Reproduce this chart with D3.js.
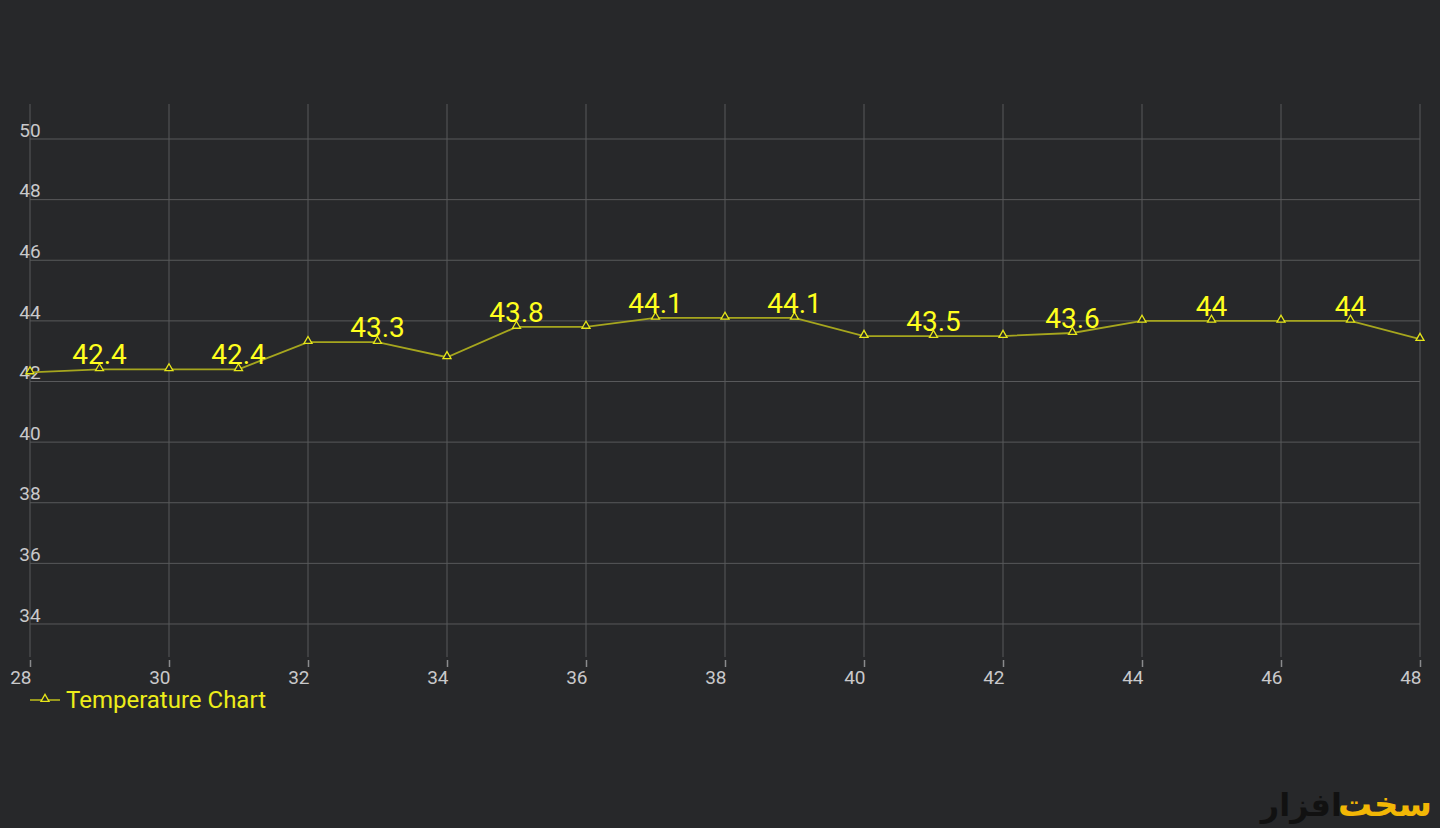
<!DOCTYPE html>
<html>
<head>
<meta charset="utf-8">
<script src="https://cdn.jsdelivr.net/npm/d3@7"></script>
<style>
  html, body { margin: 0; padding: 0; background: #27282a; }
  svg { display: block; font-family: Roboto, "Noto Sans", sans-serif; }
</style>
</head>
<body>
<div id="chart"></div>
<script>
// data
const days = [28, 29, 30, 31, 32, 33, 34, 35, 36, 37, 38, 39, 40, 41, 42, 43, 44, 45, 46, 47, 48];
const temps = [42.3, 42.4, 42.4, 42.4, 43.3, 43.3, 42.8, 43.8, 43.8, 44.1, 44.1, 44.1, 43.5, 43.5, 43.5, 43.6, 44, 44, 44, 44, 43.4];
const xTicks = [28, 30, 32, 34, 36, 38, 40, 42, 44, 46, 48];
const yTicks = [34, 36, 38, 40, 42, 44, 46, 48, 50];
const seriesName = 'Temperature Chart';

const width = 1440, height = 828;
const plotLeft = 30, plotRight = 1420, plotTop = 104, plotBottom = 657;

const points = days.map((d, i) => ({ day: d, temp: temps[i], idx: i }));

const svg = d3.select('#chart')
    .append('svg')
    .attr('width', width)
    .attr('height', height);

svg.append('rect')
    .attr('width', width)
    .attr('height', height)
    .attr('fill', '#27282a');

// scales
const x = d3.scaleLinear()
    .domain([28, 48])
    .range([plotLeft, plotRight]);

const y = d3.scaleLinear()
    .domain([32.911, 51.155])
    .range([plotBottom, plotTop]);

// grid lines
const grid = svg.append('g');
grid.selectAll('.vgrid')
    .data(xTicks)
    .enter()
    .append('line')
    .attr('x1', d => x(d)).attr('x2', d => x(d))
    .attr('y1', plotTop).attr('y2', plotBottom)
    .attr('stroke', '#58595b')
    .attr('stroke-width', 1);

grid.selectAll('.hgrid')
    .data(yTicks)
    .enter()
    .append('line')
    .attr('x1', plotLeft).attr('x2', plotRight)
    .attr('y1', d => y(d)).attr('y2', d => y(d))
    .attr('stroke', '#58595b')
    .attr('stroke-width', 1);

// x axis: small ticks below the plot, labels end-anchored
const xAxis = d3.axisBottom(x)
    .tickValues(xTicks)
    .tickSize(7)
    .tickPadding(4)
    .tickFormat(d3.format('d'));

const xAxisG = svg.append('g')
    .attr('transform', 'translate(0,' + (plotBottom + 3) + ')')
    .call(xAxis);
xAxisG.select('.domain').remove();
xAxisG.selectAll('line').attr('stroke', '#8a8b8d').attr('stroke-width', 1.5);
xAxisG.selectAll('text')
    .attr('fill', '#c9c9cb')
    .attr('font-size', 19)
    .attr('text-anchor', 'end')
    .attr('font-family', 'Roboto, sans-serif')
    .attr('dx', 1);

// y axis: labels sit on top of the grid line
const yAxis = d3.axisLeft(y)
    .tickValues(yTicks)
    .tickSize(0)
    .tickFormat(d3.format('d'));

const yAxisG = svg.append('g')
    .attr('transform', 'translate(' + plotLeft + ',0)')
    .call(yAxis);
yAxisG.select('.domain').remove();
yAxisG.selectAll('text')
    .attr('fill', '#c9c9cb')
    .attr('font-size', 19)
    .attr('font-family', 'Roboto, sans-serif')
    .attr('text-anchor', 'middle')
    .attr('x', 0)
    .attr('dy', '-0.15em');

// the line
const line = d3.line()
    .x(d => x(d.day))
    .y(d => y(d.temp));

svg.append('path')
    .datum(points)
    .attr('fill', 'none')
    .attr('stroke', '#a6a61e')
    .attr('stroke-width', 1.8)
    .attr('d', line);

// triangle markers
const tri = d3.symbol().type(d3.symbolTriangle).size(28);
svg.selectAll('.marker')
    .data(points)
    .enter()
    .append('path')
    .attr('d', tri)
    .attr('transform', d => 'translate(' + x(d.day) + ',' + (y(d.temp) - 1) + ')')
    .attr('fill', '#27282a')
    .attr('stroke', '#e6e619')
    .attr('stroke-width', 1.3);

// value labels on every other point
svg.selectAll('.vlabel')
    .data(points.filter(d => d.idx % 2 === 1))
    .enter()
    .append('text')
    .attr('x', d => x(d.day))
    .attr('y', d => y(d.temp) - 5)
    .attr('text-anchor', 'middle')
    .attr('font-size', 28)
    .attr('fill', '#ffff1e')
    .text(d => d3.format('~g')(d.temp));

// legend
const legend = svg.append('g').attr('transform', 'translate(30,700)');
legend.append('line')
    .attr('x1', 0).attr('x2', 30)
    .attr('y1', 0).attr('y2', 0)
    .attr('stroke', '#a6a61e')
    .attr('stroke-width', 1.8);
legend.append('path')
    .attr('d', tri)
    .attr('transform', 'translate(15,-1)')
    .attr('fill', '#27282a')
    .attr('stroke', '#e6e619')
    .attr('stroke-width', 1.3);
legend.append('text')
    .attr('x', 36)
    .attr('y', 8)
    .attr('font-size', 24)
    .attr('fill', '#eded1a')
    .text(seriesName);

// watermark logo
const logo = svg.append('g').attr('transform', 'translate(1432,816)');
logo.append('text')
    .attr('text-anchor', 'end')
    .attr('font-size', 34)
    .attr('font-weight', 'bold')
    .attr('font-family', '"DejaVu Sans", sans-serif')
    .attr('fill', '#f2b705')
    .text('سخت');
logo.append('text')
    .attr('x', -90)
    .attr('text-anchor', 'end')
    .attr('font-size', 32)
    .attr('font-weight', 'bold')
    .attr('font-family', '"DejaVu Sans", sans-serif')
    .attr('fill', '#111111')
    .text('افزار');
</script>
</body>
</html>
